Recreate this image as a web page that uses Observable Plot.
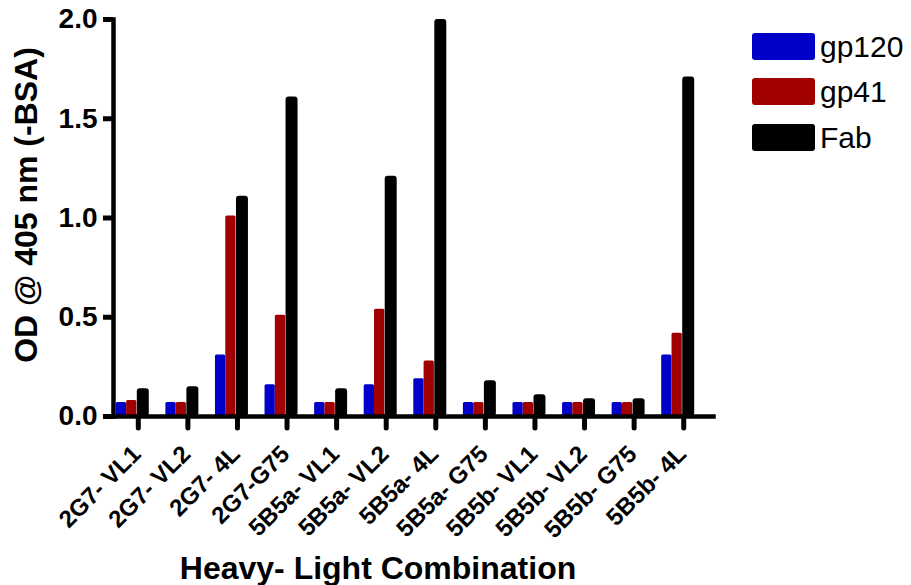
<!DOCTYPE html>
<html><head><meta charset="utf-8">
<script src="https://cdn.jsdelivr.net/npm/d3@7"></script>
<script src="https://cdn.jsdelivr.net/npm/@observablehq/plot@0.6"></script>
<style>
body{margin:0;background:#fff;}
#wrap{position:relative;width:911px;height:585px;font-family:"Liberation Sans",Arial,sans-serif;}
#chart{position:absolute;left:0;top:0;}
#legend{position:absolute;left:752px;top:33px;}
.row{display:flex;align-items:center;height:27px;margin-bottom:18.3px;}
.sw{width:63px;height:27px;border-radius:3px;}
.lb{font-size:30px;margin-left:5px;line-height:27px;color:#000;}
</style></head>
<body>
<div id="wrap"><div id="chart"></div><div id="legend"></div></div>
<script>
const categories = ["2G7- VL1","2G7- VL2","2G7- 4L","2G7-G75","5B5a- VL1","5B5a- VL2","5B5a- 4L","5B5a- G75","5B5b- VL1","5B5b- VL2","5B5b- G75","5B5b- 4L"];
const gp120 = [0.07,0.07,0.31,0.16,0.07,0.16,0.19,0.07,0.07,0.07,0.07,0.31];
const gp41  = [0.08,0.07,1.01,0.51,0.07,0.54,0.28,0.07,0.07,0.07,0.07,0.42];
const fab   = [0.14,0.15,1.11,1.61,0.14,1.21,2.00,0.18,0.11,0.09,0.09,1.71];
const seriesNames = ["gp120","gp41","Fab"];
const seriesColors = ["#0000c8","#a00000","#000000"];
const yTicks = [0,0.5,1.0,1.5,2.0];
const xTitle = "Heavy- Light Combination";
const yTitle = "OD @ 405 nm (-BSA)";

const rows = categories.map((c,i)=>({c, gp120: gp120[i], gp41: gp41[i], fab: fab[i]}));
const font = "'Liberation Sans', Arial, sans-serif";

const chart = Plot.plot({
  width: 911, height: 585,
  marginLeft: 113, marginRight: 203, marginTop: 19, marginBottom: 169,
  style: {fontFamily: font, color: "#000", background: "#fff"},
  x: {domain: categories, padding: 0, round: false},
  y: {domain: [0, 2]},
  marks: [
    Plot.barY(rows, {x: "c", y: "gp120", fill: seriesColors[0], insetLeft: 2.8, insetRight: 36.5, rx: 1.5}),
    Plot.barY(rows, {x: "c", y: "gp41", fill: seriesColors[1], insetLeft: 13.1, insetRight: 26.2, rx: 1.5}),
    Plot.barY(rows, {x: "c", y: "fab", fill: seriesColors[2], insetLeft: 23.8, insetRight: 13.8, rx: 3}),
    Plot.axisY({ticks: yTicks, tickFormat: d3.format(".1f"), tickSize: 10, tickPadding: 6, strokeWidth: 5, fontSize: 28, fontWeight: "bold", label: null}),
    Plot.axisX({tickSize: 12, strokeWidth: 5, strokeLinecap: "round", tickFormat: () => "", label: null}),
    Plot.text(categories, {x: d => d, frameAnchor: "bottom", rotate: -45, textAnchor: "end", lineAnchor: "bottom", dx: 4, dy: 39, fontSize: 24, fontWeight: "bold"}),
    Plot.frame({anchor: "left", strokeWidth: 4.5, strokeLinecap: "square"}),
    Plot.frame({anchor: "bottom", strokeWidth: 4.5, strokeLinecap: "square", insetRight: -5}),
    Plot.text([yTitle], {frameAnchor: "left", rotate: -90, dx: -87, dy: -13, fontSize: 32, fontWeight: "bold", textAnchor: "middle", lineAnchor: "middle"}),
    Plot.text([xTitle], {frameAnchor: "bottom", dx: -33, dy: 162, fontSize: 32, fontWeight: "bold", textAnchor: "middle", lineAnchor: "bottom"})
  ]
});
document.getElementById("chart").appendChild(chart);

const legend = document.getElementById("legend");
seriesNames.forEach((name, i) => {
  const row = document.createElement("div");
  row.className = "row";
  const sw = document.createElement("div");
  sw.className = "sw";
  sw.style.background = seriesColors[i];
  const lb = document.createElement("span");
  lb.className = "lb";
  lb.textContent = name;
  row.appendChild(sw); row.appendChild(lb);
  legend.appendChild(row);
});
</script>
</body></html>
